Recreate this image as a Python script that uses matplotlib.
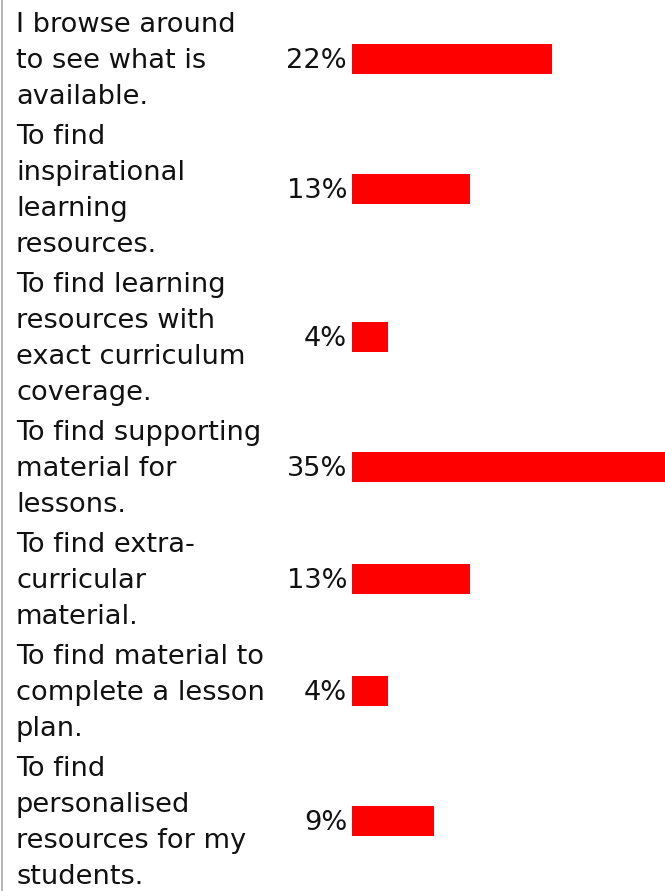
import matplotlib
matplotlib.use("Agg")
import matplotlib.pyplot as plt
import matplotlib.transforms as mtransforms
from matplotlib.lines import Line2D

# survey answers, wrapped the same way as the reference table
labels = [
    ["I browse around", "to see what is", "available."],
    ["To find", "inspirational", "learning", "resources."],
    ["To find learning", "resources with", "exact curriculum", "coverage."],
    ["To find supporting", "material for", "lessons."],
    ["To find extra-", "curricular", "material."],
    ["To find material to", "complete a lesson", "plan."],
    ["To find", "personalised", "resources for my", "students."],
]
values = [22, 13, 4, 35, 13, 4, 9]

W, H = 665, 891
LINE_PITCH = 36      # px between text baselines
ROW_PAD = 4          # extra px between table rows
FIRST_BASELINE = 32
BAR_LEFT = 352
PX_PER_PCT = 200 / 22
FONT_PX = 27.2
fs = FONT_PX * 72 / 100

fig = plt.figure(figsize=(W / 100, H / 100), dpi=100)
fig.patch.set_facecolor("white")

ax = fig.add_axes([BAR_LEFT / W, 0, (W - BAR_LEFT) / W, 1])
ax.set_xlim(0, (W - BAR_LEFT) / PX_PER_PCT)
ax.set_ylim(H, 0)
ax.axis("off")

# work out row layout from the number of wrapped lines
baselines = []
centers = []
b = FIRST_BASELINE
for lines in labels:
    row = [b + k * LINE_PITCH for k in range(len(lines))]
    baselines.append(row)
    centers.append(sum(row) / len(row) - 9.5)
    b = row[-1] + LINE_PITCH + ROW_PAD

ax.barh(centers, values, height=30, left=0, color="#ff0000", edgecolor="none")

trans = mtransforms.blended_transform_factory(fig.transFigure, ax.transData)
for lines, row, c, v in zip(labels, baselines, centers, values):
    for txt, y in zip(lines, row):
        ax.text(16 / W, y, txt, transform=trans, fontsize=fs,
                family="DejaVu Sans", color="#111111", ha="left", va="baseline")
    ax.text(347 / W, c + 10, f"{v}%", transform=trans, fontsize=fs,
            family="DejaVu Sans", color="#111111", ha="right", va="baseline")

# thin grey border down the left edge
fig.add_artist(Line2D([1.5 / W, 1.5 / W], [0, 1], transform=fig.transFigure,
                      color="#b4b4b4", linewidth=1.4))

fig.savefig("out.png", dpi=100)
